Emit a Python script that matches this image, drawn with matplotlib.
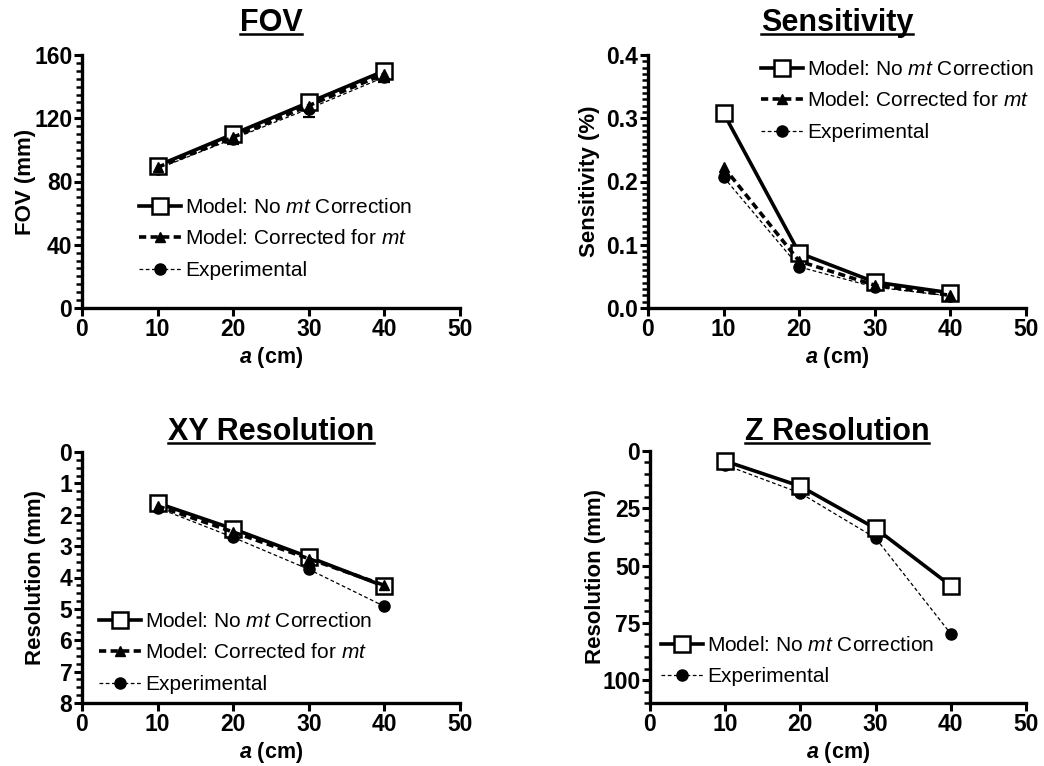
import matplotlib
matplotlib.use("Agg")
import matplotlib.pyplot as plt
from matplotlib.ticker import MultipleLocator, FormatStrFormatter
from matplotlib.lines import Line2D

plt.rcParams['font.family'] = ['Liberation Sans', 'DejaVu Sans']
plt.rcParams['mathtext.fontset'] = 'custom'
plt.rcParams['mathtext.rm'] = 'Liberation Sans'
plt.rcParams['mathtext.it'] = 'Liberation Sans:italic'
plt.rcParams['mathtext.bf'] = 'Liberation Sans:bold'
plt.rcParams['mathtext.bfit'] = 'Liberation Sans:italic:bold'

# data
a_cm = [10, 20, 30, 40]

fov_nomt = [90, 110, 130, 150]
fov_corr = [89, 108, 128, 148]
fov_exp = [88, 107, 126, 146]
fov_exp_err = [2, 3, 5, 3]

sens_nomt = [0.308, 0.087, 0.041, 0.024]
sens_corr = [0.223, 0.074, 0.036, 0.020]
sens_exp = [0.207, 0.065, 0.033, 0.019]

xy_nomt = [1.63, 2.45, 3.35, 4.28]
xy_corr = [1.72, 2.55, 3.40, 4.25]
xy_exp = [1.78, 2.72, 3.74, 4.92]

z_nomt = [4.4, 15.4, 33.8, 58.8]
z_exp = [6.1, 18.4, 38.0, 79.8]

lbl_nomt = "Model: No $\\mathit{mt}$ Correction"
lbl_corr = "Model: Corrected for $\\mathit{mt}$"
lbl_exp = "Experimental"

W, H = 1044, 766
fig = plt.figure(figsize=(W / 100, H / 100), dpi=100)


def px_axes(l, r, t, b):
    return fig.add_axes([l / W, 1 - b / H, (r - l) / W, (b - t) / H])


def style(ax, ylim, major, minor, invert=False):
    ax.spines['top'].set_visible(False)
    ax.spines['right'].set_visible(False)
    for s in ['left', 'bottom']:
        ax.spines[s].set_linewidth(2.4)
    ax.set_xlim(0, 50)
    ax.xaxis.set_major_locator(MultipleLocator(10))
    ax.yaxis.set_major_locator(MultipleLocator(major))
    ax.yaxis.set_minor_locator(MultipleLocator(minor))
    if invert:
        ax.set_ylim(ylim[1], ylim[0])
    else:
        ax.set_ylim(ylim[0], ylim[1])
    ax.tick_params(which='major', direction='out', length=6, width=2.2,
                   labelsize=16.5, pad=1)
    ax.tick_params(which='minor', direction='out', length=4, width=1.8)
    ax.set_xlabel("$\\mathbfit{a}$ (cm)", fontsize=15.5, fontweight='bold', labelpad=3)


def ylabel(ax, text, xpx, left):
    ax.set_ylabel(text, fontsize=16, fontweight='bold')
    w = ax.get_position().width * W
    ax.yaxis.set_label_coords((xpx + 4 - left) / w, 0.5)
    ax.yaxis.label.set_verticalalignment('center')


def plot_nomt(ax, y):
    ax.plot(a_cm, y, color='black', lw=2.6, marker='s', ms=11,
            mfc='white', mec='black', mew=1.8, label=lbl_nomt, zorder=3)


def plot_corr(ax, y):
    ax.plot(a_cm, y, color='black', lw=2.6, dashes=(2.0, 1.2), marker='^',
            ms=6.5, mfc='black', mec='black', label=lbl_corr, zorder=4)


def plot_exp(ax, y, err=None):
    if err is not None:
        ax.errorbar(a_cm, y, yerr=err, fmt='none', ecolor='black',
                    capsize=4, elinewidth=1.6, capthick=1.6, zorder=2)
    ax.plot(a_cm, y, color='black', lw=0.9, dashes=(3, 2), marker='o',
            ms=8, label=lbl_exp, zorder=2)


def legend(ax, x, y):
    handles, labels = ax.get_legend_handles_labels()
    ax.legend(handles, labels, loc='upper left', bbox_to_anchor=(x / W, 1 - y / H),
              bbox_transform=fig.transFigure, frameon=False, fontsize=15,
              borderpad=0, borderaxespad=0, handlelength=2.0, handletextpad=0.2,
              labelspacing=0.6)


titles = []


def title(text, x, y):
    t = fig.text(x / W, 1 - y / H, text, ha='center', va='baseline',
                 fontsize=22, fontweight='bold')
    titles.append((t, y))


# FOV
ax1 = px_axes(82, 460, 55, 308)
plot_nomt(ax1, fov_nomt)
plot_corr(ax1, fov_corr)
plot_exp(ax1, fov_exp, fov_exp_err)
style(ax1, (0, 160), 40, 5)
ylabel(ax1, "FOV (mm)", 22, 82)
legend(ax1, 139, 198)
title("FOV", 271, 31)

# Sensitivity
ax2 = px_axes(648, 1026, 55, 308)
plot_nomt(ax2, sens_nomt)
plot_corr(ax2, sens_corr)
plot_exp(ax2, sens_exp)
style(ax2, (0, 0.4), 0.1, 0.01)
ax2.yaxis.set_major_formatter(FormatStrFormatter('%.1f'))
ylabel(ax2, "Sensitivity (%)", 585, 648)
legend(ax2, 761, 60)
title("Sensitivity", 837, 31)

# XY Resolution
ax3 = px_axes(82, 460, 452, 703)
plot_nomt(ax3, xy_nomt)
plot_corr(ax3, xy_corr)
plot_exp(ax3, xy_exp)
style(ax3, (0, 8), 1, 0.25, invert=True)
ylabel(ax3, "Resolution (mm)", 32, 82)
legend(ax3, 99, 612)
title("XY Resolution", 271, 440)

# Z Resolution
ax4 = px_axes(650, 1026, 451, 703)
plot_nomt(ax4, z_nomt)
plot_exp(ax4, z_exp)
style(ax4, (0, 110), 25, 5, invert=True)
ylabel(ax4, "Resolution (mm)", 592, 650)
legend(ax4, 661, 636)
title("Z Resolution", 837, 440)

for ax in [ax1, ax2, ax3, ax4]:
    for lab in ax.get_xticklabels() + ax.get_yticklabels():
        lab.set_fontweight('bold')

# underline the titles just under the baseline
fig.canvas.draw()
r = fig.canvas.get_renderer()
for t, ybase in titles:
    bb = t.get_window_extent(r)
    yline = 1 - (ybase + 2.5) / H
    fig.add_artist(Line2D([bb.x0 / W, bb.x1 / W], [yline, yline],
                          color='black', lw=1.8, transform=fig.transFigure))

fig.savefig("out.png", dpi=100)
